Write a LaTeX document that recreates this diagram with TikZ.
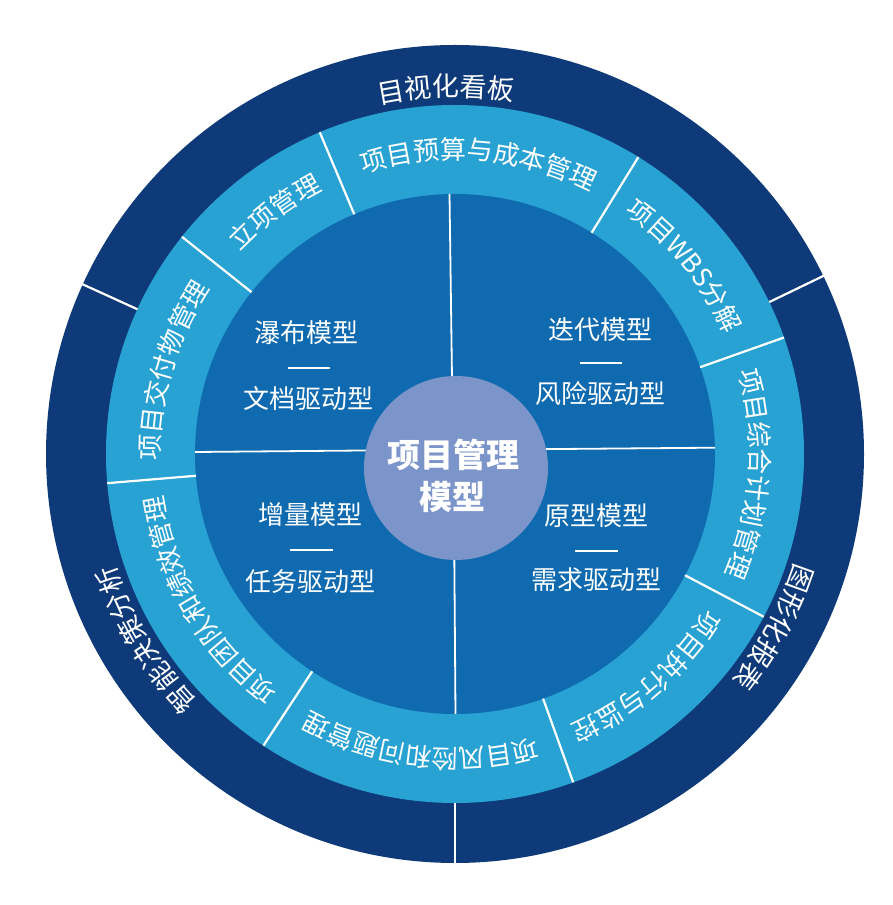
\documentclass[tikz,border=0pt]{standalone}
\usepackage{fontspec}
\setmainfont{Noto Sans CJK SC}
\usetikzlibrary{decorations.text}
\definecolor{navy}{HTML}{0E3A79}
\definecolor{ringblue}{HTML}{28A1D3}
\definecolor{midblue}{HTML}{0F6AAF}
\definecolor{hubblue}{HTML}{7B94CA}
\newcommand\ringtext[4]{%
  \pgfmathsetmacro\rtA{#2+75}%
  \pgfmathsetmacro\rtB{#2-75}%
  \path[decorate,decoration={text along path,text align=center,text color=white,
      text={|\fontsize{#3}{#3}\selectfont|#4}}]
    (\rtA:#1pt) arc[start angle=\rtA,end angle=\rtB,radius=#1pt];}
\begin{document}
\begin{tikzpicture}[x=1pt,y=1pt,
  divider/.style={white,line width=2.2pt},
  quadline/.style={white,line width=1.8pt},
  quadtext/.style={text=white,font=\fontsize{26}{26}\selectfont,inner sep=0pt},
  hubtext/.style={text=white,font=\bfseries\fontsize{33}{33}\selectfont,inner sep=0pt}]
\useasboundingbox (0,0) rectangle (893,905);
\coordinate (C) at (455,451);
\fill[navy] (C) circle[radius=409pt];
\fill[ringblue] (C) circle[radius=349pt];
\fill[midblue] (C) circle[radius=260pt];
\begin{scope}[shift={(C)}]
  \foreach \a in {25.8,155.5,270} \draw[divider] (\a:349pt) -- (\a:410pt);
  \foreach \a in {112.8,58.3,19.5,-27.8,-70.2,236.7,184.8,141.5} \draw[divider] (\a:260pt) -- (\a:349pt);
\end{scope}
% quadrant dividers
\coordinate (qt1) at (449.5,711); \coordinate (qt2) at (452.5,490);
\coordinate (qb1) at (455.5,191); \coordinate (qb2) at (454,390);
\coordinate (ql1) at (195,453); \coordinate (ql2) at (420,455);
\coordinate (qr1) at (715,457.3); \coordinate (qr2) at (500,455.5);
\draw[quadline] (qt1) -- (qt2);
\draw[quadline] (qb1) -- (qb2);
\draw[quadline] (ql1) -- (ql2);
\draw[quadline] (qr1) -- (qr2);
% hub
\node[circle,fill=hubblue,minimum size=184pt,inner sep=0pt] (hub) at (456,437) {};
\node[hubtext] (hubA) at (453.3,450) {项目管理};
\node[hubtext] (hubB) at (452.5,408) {模型};
% quadrant texts
\node[quadtext] (q1a) at (306.7,572.5) {瀑布模型};
\coordinate (q1l) at (287.5,537.3); \coordinate (q1r) at (330,537.3);
\draw[quadline] (q1l) -- (q1r);
\node[quadtext] (q1b) at (308.3,506.3) {文档驱动型};
\node[quadtext] (q2a) at (600,575) {迭代模型};
\coordinate (q2l) at (579.5,541.7); \coordinate (q2r) at (621.5,541.7);
\draw[quadline] (q2l) -- (q2r);
\node[quadtext] (q2b) at (600,511.7) {风险驱动型};
\node[quadtext] (q3a) at (310.5,390) {增量模型};
\coordinate (q3l) at (290,355); \coordinate (q3r) at (332.5,355);
\draw[quadline] (q3l) -- (q3r);
\node[quadtext] (q3b) at (310.5,323.3) {任务驱动型};
\node[quadtext] (q4a) at (596,389) {原型模型};
\coordinate (q4l) at (575,354); \coordinate (q4r) at (617.5,354);
\draw[quadline] (q4l) -- (q4r);
\node[quadtext] (q4b) at (596,325) {需求驱动型};
% ring texts
\begin{scope}[shift={(C)}]
  \ringtext{295}{126.7}{26}{立项管理}
  \ringtext{295}{85.3}{26}{项目预算与成本管理}
  \ringtext{295}{39.4}{26}{项目WBS分解}
  \ringtext{295}{-3.9}{26}{项目综合计划管理}
  \ringtext{295}{-49.3}{26}{项目执行与监控}
  \ringtext{295}{-96.9}{26}{项目风险和问题管理}
  \ringtext{295}{210.6}{26}{项目团队和绩效管理}
  \ringtext{295}{163.6}{26}{项目交付物管理}
  \ringtext{357.5}{91.4}{27}{目视化看板}
  \ringtext{357.5}{-28.5}{27}{图形化报表}
  \ringtext{357.5}{210.9}{27}{智能决策分析}
\end{scope}
\end{tikzpicture}
\end{document}
